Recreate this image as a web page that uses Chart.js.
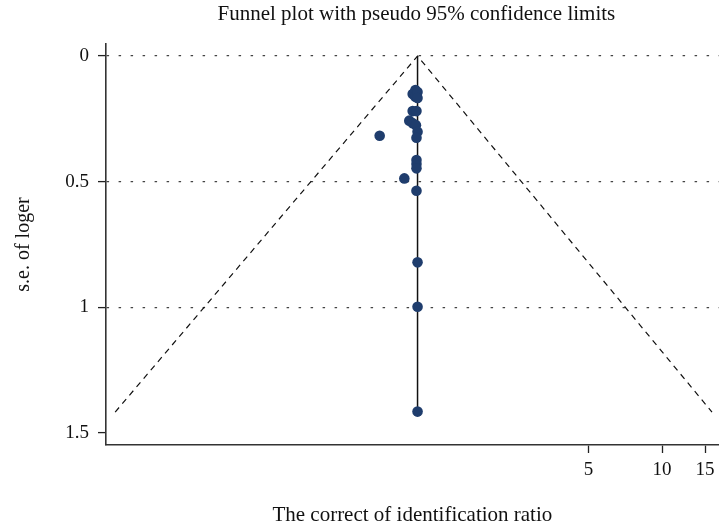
<!DOCTYPE html>
<html>
<head>
<meta charset="utf-8">
<script src="https://cdn.jsdelivr.net/npm/chart.js@4/dist/chart.umd.min.js"></script>
<style>
  html, body { margin: 0; padding: 0; background: #fff; overflow: hidden; }
  #wrap { width: 728px; height: 523px; }
</style>
</head>
<body>
<div id="wrap"><canvas id="funnel"></canvas></div>
<script>
// study estimates: ratio (log x axis) and standard error of log ratio
var studyRatio = [0.98, 0.955, 0.98, 1.0, 1.0, 0.955, 0.99, 0.925, 0.955, 0.985, 1.0, 0.99, 0.70, 0.99, 0.99, 0.99, 0.883, 0.99, 1.0, 1.0, 1.0];
var studySe    = [0.135, 0.151, 0.162, 0.143, 0.167, 0.219, 0.219, 0.257, 0.267, 0.275, 0.301, 0.325, 0.317, 0.414, 0.43, 0.447, 0.487, 0.536, 0.821, 0.998, 1.415];

// pseudo 95% limits and pooled line
var limitRatio = [0.058, 1, 16.0];
var limitSe    = [1.417, 0, 1.417];
var pooledRatio = [1, 1];
var pooledSe    = [0, 1.417];

var xTicks = [5, 10, 15];
var yTicks = [0, 0.5, 1, 1.5];

var titleText = 'Funnel plot with pseudo 95% confidence limits';
var xTitle = 'The correct of identification ratio';
var yTitle = 's.e. of loger';

function pairs(xs, ys) {
    var out = [];
    for (var i = 0; i < xs.length; i++) out.push({x: xs[i], y: ys[i]});
    return out;
}

var serif = '"Liberation Serif", "DejaVu Serif", serif';

// titles drawn over the plot area (the plot is cut off on the right)
var titlesPlugin = {
    id: 'titles',
    afterDraw: function(chart) {
        var c = chart.ctx, a = chart.chartArea;
        c.save();
        c.fillStyle = '#111';
        c.textAlign = 'center';
        c.textBaseline = 'middle';
        c.font = '21px ' + serif;
        c.fillText(titleText, (a.left + a.right) / 2 + 2, 14);
        c.fillText(xTitle, (a.left + a.right) / 2 - 2, 515);
        c.translate(24, (a.top + a.bottom) / 2);
        c.rotate(-Math.PI / 2);
        c.font = '20px ' + serif;
        c.fillText(yTitle, 0, 0);
        c.restore();
    }
};

new Chart(document.getElementById('funnel'), {
    type: 'scatter',
    data: {
        datasets: [{
            label: 'studies',
            data: pairs(studyRatio, studySe),
            backgroundColor: '#1f3d6d',
            borderColor: '#1f3d6d',
            pointRadius: 5.3,
            pointBorderWidth: 0
        }, {
            label: 'pooled',
            data: pairs(pooledRatio, pooledSe),
            showLine: true,
            borderColor: '#111',
            borderWidth: 1.5,
            pointRadius: 0
        }, {
            label: 'limits',
            data: pairs(limitRatio, limitSe),
            showLine: true,
            borderColor: '#111',
            borderWidth: 1.2,
            borderDash: [6, 5],
            pointRadius: 0
        }]
    },
    options: {
        responsive: true,
        maintainAspectRatio: false,
        animation: false,
        layout: { padding: { top: 44, left: 0, right: 0, bottom: 0 } },
        plugins: {
            legend: { display: false },
            tooltip: { enabled: false },
            title: { display: false }
        },
        scales: {
            x: {
                type: 'logarithmic',
                min: 0.0532,
                max: 17.7,
                afterBuildTicks: function(scale) {
                    scale.ticks = xTicks.map(function(v) { return {value: v}; });
                },
                afterFit: function(scale) { scale.height = 78; },
                ticks: {
                    color: '#111',
                    padding: 6,
                    maxRotation: 0,
                    autoSkip: false,
                    font: { family: serif, size: 19 },
                    callback: function(v) { return String(v); }
                },
                grid: {
                    drawOnChartArea: false,
                    tickLength: 8,
                    tickColor: '#222',
                    tickWidth: 1.3
                },
                border: { color: '#333', width: 1.6 }
            },
            y: {
                type: 'linear',
                reverse: true,
                min: -0.048,
                max: 1.548,
                afterBuildTicks: function(scale) {
                    scale.ticks = yTicks.map(function(v) { return {value: v}; });
                },
                afterFit: function(scale) { scale.width = 106; },
                ticks: {
                    color: '#111',
                    padding: 9,
                    autoSkip: false,
                    font: { family: serif, size: 19 },
                    callback: function(v) { return String(v); }
                },
                grid: {
                    color: function(ctx) {
                        return ctx.tick && ctx.tick.value === 1.5 ? 'rgba(0,0,0,0)' : '#444';
                    },
                    lineWidth: 1.2,
                    tickLength: 8,
                    tickColor: '#222',
                    tickWidth: 1.3,
                    tickBorderDash: []
                },
                border: { color: '#333', width: 1.6, dash: [2.5, 9.5] }
            }
        }
    },
    plugins: [titlesPlugin]
});
</script>
</body>
</html>
